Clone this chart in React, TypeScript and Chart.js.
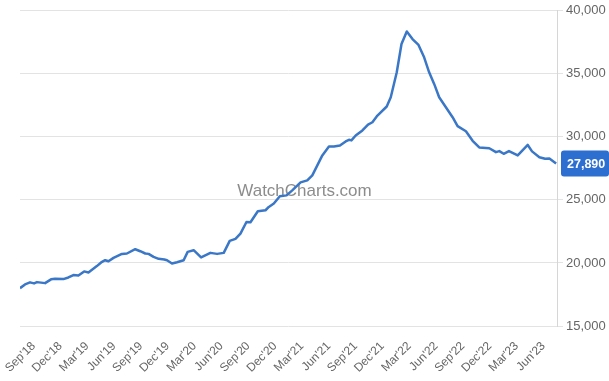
import React, { useEffect, useRef } from "react";
import { Chart, registerables } from "chart.js";

Chart.register(...registerables);

// x = months since Jan 2018 (fractional)
const months = [
  6.49, 7.05, 7.61, 8.06, 8.39, 9.29, 9.96, 10.41, 11.34, 11.9,
  12.46, 13.02, 13.66, 14.14, 15.08, 15.56, 16.01, 16.38, 16.94, 17.88,
  18.44, 19.37, 19.93, 20.49, 20.86, 21.42, 21.98, 22.62, 22.92, 23.48,
  24.04, 24.78, 25.23, 25.9, 26.73, 27.77, 28.52, 29.26, 29.93, 30.57,
  31.13, 31.8, 32.25, 33.07, 33.93, 34.3, 34.86, 35.53, 36.28, 36.92,
  37.85, 38.6, 39.16, 39.72, 40.28, 41.02, 41.58, 42.25, 42.89, 43.26,
  43.53, 44.01, 44.76, 45.39, 45.88, 46.44, 47.48, 47.93, 48.6, 49.13,
  49.72, 50.36, 51.03, 51.66, 52.22, 52.78, 53.34, 54.09, 54.84, 55.4,
  56.33, 57.08, 57.82, 58.94, 59.69, 60.06, 60.55, 61.14, 62.12, 63.24,
  63.72, 64.54, 65.18, 65.66, 66.41,
];

const prices = [
  18000, 18300, 18460, 18380, 18480, 18400, 18700, 18740, 18720, 18850,
  19040, 19010, 19330, 19250, 19750, 20040, 20220, 20140, 20400, 20720,
  20750, 21090, 20930, 20750, 20720, 20480, 20330, 20280, 20220, 19960,
  20060, 20220, 20880, 21010, 20440, 20800, 20720, 20800, 21750, 21910,
  22330, 23250, 23230, 24100, 24180, 24440, 24710, 25290, 25360, 25760,
  26390, 26550, 26950, 27740, 28530, 29240, 29240, 29320, 29640, 29770,
  29720, 30110, 30510, 30980, 31160, 31690, 32410, 33140, 35120, 37370,
  38360, 37760, 37290, 36310, 35120, 34200, 33140, 32350, 31560, 30850,
  30450, 29690, 29160, 29100, 28790, 28870, 28660, 28870, 28530, 29360,
  28850, 28390, 28270, 28280, 27890,
];

const tickLabels = [
  "Sep'18", "Dec'18", "Mar'19", "Jun'19", "Sep'19", "Dec'19", "Mar'20",
  "Jun'20", "Sep'20", "Dec'20", "Mar'21", "Jun'21", "Sep'21", "Dec'21",
  "Mar'22", "Jun'22", "Sep'22", "Dec'22", "Mar'23", "Jun'23",
];
const firstTickMonth = 8; // Sep 2018
const tickStepMonths = 3;

const xMin = 6.49;
const xMax = 66.51;
const yMin = 15000;
const yMax = 40000;
const yStep = 5000;

const LINE_COLOR = "#3a77c7";
const BADGE_COLOR = "#2d6fd0";
const FONT = "'Liberation Sans', Arial, Helvetica, sans-serif";

const fmt = (v: number) => Math.round(v).toLocaleString("en-US");

export default function App() {
  const ref = useRef<HTMLCanvasElement | null>(null);

  useEffect(() => {
    document.body.style.margin = "0";
    const canvas = ref.current;
    if (!canvas) return;

    const tickValues = tickLabels.map((_, i) => firstTickMonth + i * tickStepMonths);

    const extras = {
      id: "extras",
      beforeDatasetsDraw(chart: any) {
        const ctx = chart.ctx;
        ctx.save();
        ctx.font = `17px ${FONT}`;
        ctx.fillStyle = "rgba(120,120,120,0.85)";
        ctx.textAlign = "center";
        ctx.textBaseline = "middle";
        ctx.fillText("WatchCharts.com", chart.width / 2, chart.height / 2 + 1);
        ctx.restore();
      },
      afterDraw(chart: any) {
        const ctx = chart.ctx;
        const last = prices[prices.length - 1];
        const y = chart.scales.y.getPixelForValue(last);
        const x0 = chart.chartArea.right + 4;
        const x1 = chart.width;
        const h = 26;
        ctx.save();
        ctx.fillStyle = BADGE_COLOR;
        ctx.beginPath();
        (ctx as any).roundRect(x0, y - h / 2, x1 - x0, h, 3);
        ctx.fill();
        ctx.fillStyle = "#ffffff";
        ctx.font = `bold 12.5px ${FONT}`;
        ctx.textAlign = "left";
        ctx.textBaseline = "middle";
        ctx.fillText(fmt(last), x0 + 6, y + 1);
        ctx.restore();
      },
    };

    const chart = new Chart(canvas, {
      type: "line",
      data: {
        datasets: [
          {
            data: months.map((m, i) => ({ x: m, y: prices[i] })),
            borderColor: LINE_COLOR,
            borderWidth: 2.5,
            pointRadius: 0,
            tension: 0,
            fill: false,
            borderJoinStyle: "round",
          },
        ],
      },
      options: {
        animation: false,
        responsive: false,
        maintainAspectRatio: false,
        layout: { padding: { left: 20, top: 10, right: 0, bottom: 0 } },
        plugins: { legend: { display: false }, tooltip: { enabled: false } },
        scales: {
          x: {
            type: "linear",
            min: xMin,
            max: xMax,
            afterBuildTicks(scale: any) {
              scale.ticks = tickValues.map((v) => ({ value: v }));
            },
            afterFit(scale: any) {
              scale.height = 55;
              scale.paddingLeft = 0;
              scale.paddingRight = 0;
            },
            grid: { display: false },
            border: { display: false },
            ticks: {
              autoSkip: false,
              minRotation: 45,
              maxRotation: 45,
              color: "#666",
              font: { family: FONT, size: 12 },
              padding: 5,
              callback: (v: any) => {
                const idx = tickValues.indexOf(Number(v));
                return idx >= 0 ? tickLabels[idx] : "";
              },
            },
          },
          y: {
            position: "right",
            min: yMin,
            max: yMax,
            afterFit(scale: any) {
              scale.width = 52;
            },
            grid: { color: "#e3e3e3", tickLength: 6, lineWidth: 1 },
            border: { display: true, color: "#d6d6d6" },
            ticks: {
              stepSize: yStep,
              color: "#666",
              padding: 3,
              font: { family: FONT, size: 13 },
              callback: (v: any) => fmt(Number(v)),
            },
          },
        },
      },
      plugins: [extras],
    } as any);

    return () => chart.destroy();
  }, []);

  return (
    <div style={{ width: 609, height: 381, position: "relative" }}>
      <canvas ref={ref} width={609} height={381} style={{ width: 609, height: 381, display: "block" }} />
    </div>
  );
}
